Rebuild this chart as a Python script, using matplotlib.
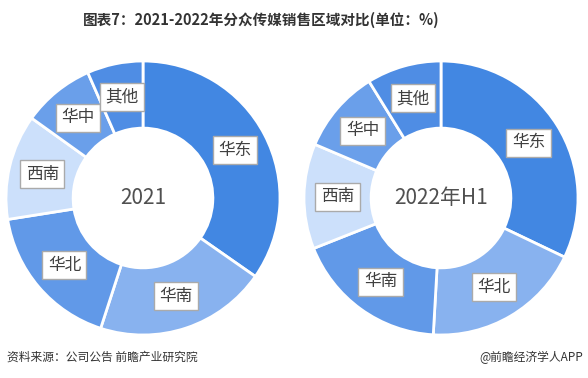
import numpy as np
import matplotlib
matplotlib.use("Agg")
import matplotlib.pyplot as plt

plt.rcParams['font.family'] = ['Noto Sans CJK SC', 'DejaVu Sans']

# region shares, clockwise from 12 o'clock (%)
labels_2021 = ["华东", "华南", "华北", "西南", "华中", "其他"]
share_2021 = [34.7, 20.3, 17.5, 12.4, 8.5, 6.6]

labels_2022h1 = ["华东", "华北", "华南", "西南", "华中", "其他"]
share_2022h1 = [32.1, 18.8, 18.1, 12.4, 9.8, 8.8]

centers = ["2021", "2022年H1"]
colors = ["#4287E2", "#88B2EF", "#6199E8", "#CCE0FB", "#6A9FEA", "#4F8DE4"]

fig = plt.figure(figsize=(5.88, 3.78), dpi=100)
fig.patch.set_facecolor("white")

axes_pos = [[6 / 588, 43 / 378, 274 / 588, 274 / 378],
            [304 / 588, 43 / 378, 274 / 588, 274 / 378]]

for pos, labs, vals, ctext in zip(axes_pos, [labels_2021, labels_2022h1],
                                  [share_2021, share_2022h1], centers):
    ax = fig.add_axes(pos)
    wedges, _ = ax.pie(vals, colors=colors, startangle=90, counterclock=False,
                       radius=1.0,
                       wedgeprops=dict(width=0.49, edgecolor="white", linewidth=2))
    # labels in the middle of the ring
    cum = np.cumsum([0] + vals)
    total = cum[-1]
    for i, lab in enumerate(labs):
        mid = (cum[i] + cum[i + 1]) / 2 / total * 2 * np.pi
        r = 0.755
        ax.text(r * np.sin(mid), r * np.cos(mid), lab, ha="center", va="center",
                fontsize=12, color="#404040",
                bbox=dict(boxstyle="square,pad=0.33", facecolor="white",
                          edgecolor="#AAAAAA", linewidth=1))
    ax.text(0, 0, ctext, ha="center", va="center", fontsize=15, color="#505050")
    ax.set_xlim(-1, 1)
    ax.set_ylim(-1, 1)
    ax.set_aspect("equal")
    ax.axis("off")

fig.text(261 / 588, 1 - 20 / 378, "图表7：2021-2022年分众传媒销售区域对比(单位：%)",
         ha="center", va="center", fontsize=10.5, fontweight="bold", color="#333333")
fig.text(7 / 588, 1 - 357 / 378, "资料来源：公司公告 前瞻产业研究院",
         ha="left", va="center", fontsize=8.5, color="#333333")
fig.text(583 / 588, 1 - 357 / 378, "@前瞻经济学人APP",
         ha="right", va="center", fontsize=8.5, color="#333333")

fig.savefig("out.png", dpi=100, facecolor="white")
